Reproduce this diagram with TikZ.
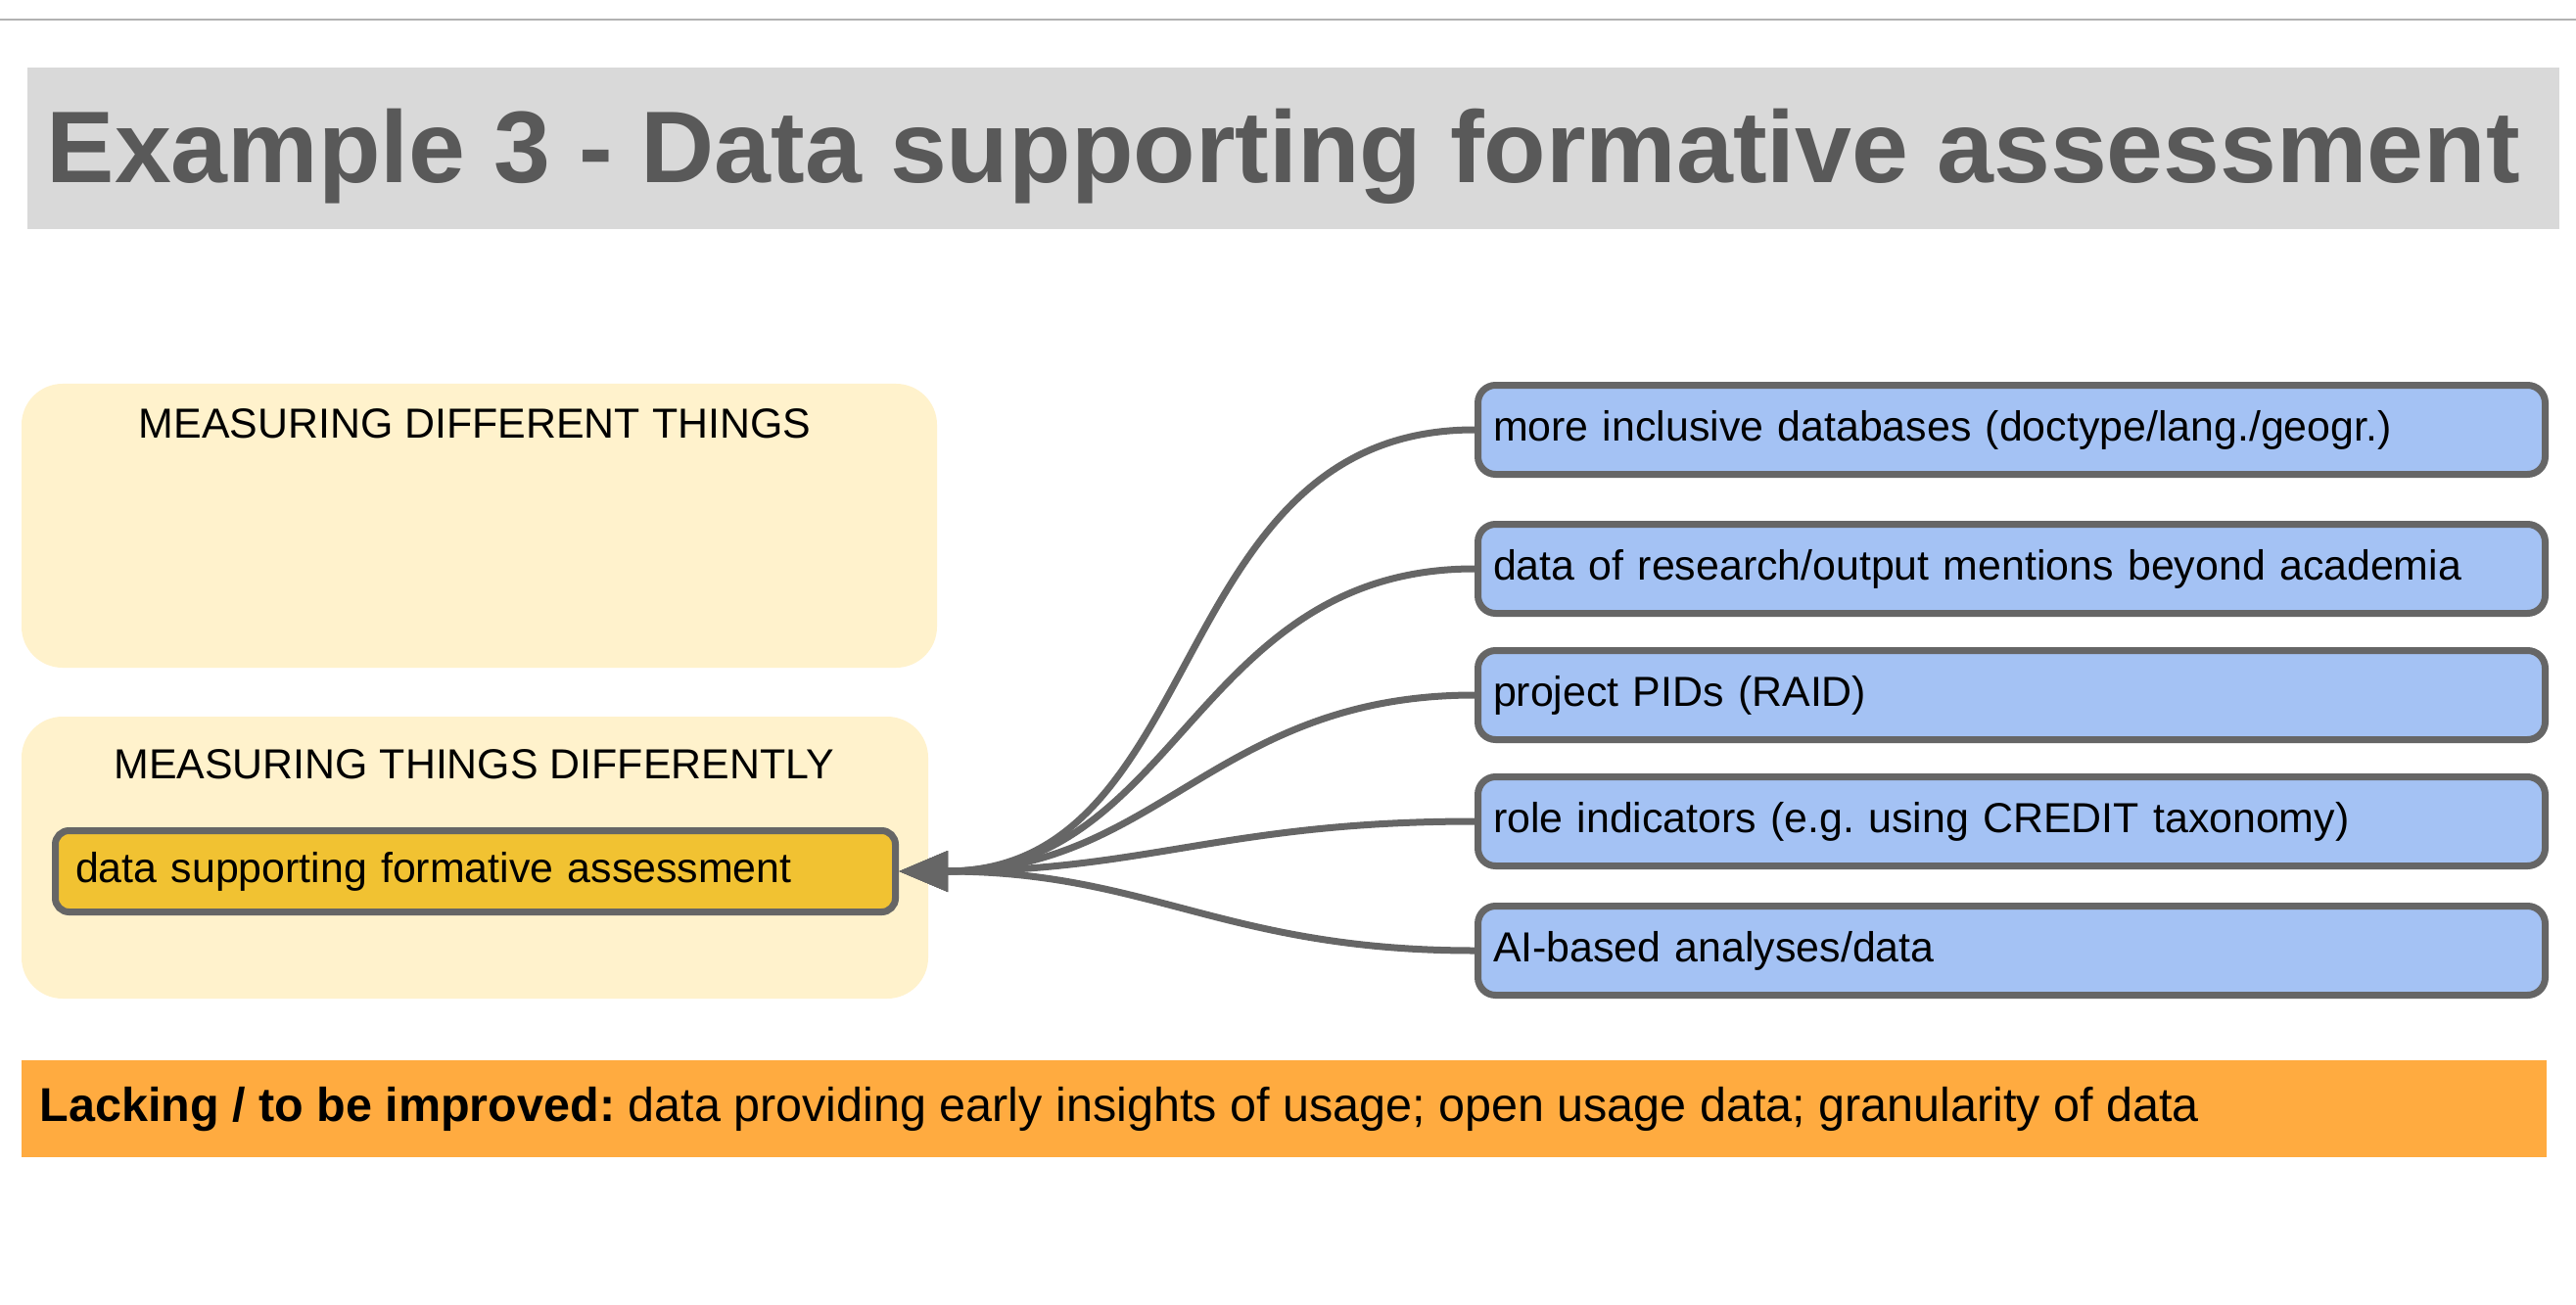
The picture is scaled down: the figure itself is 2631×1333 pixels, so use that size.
\documentclass[tikz,border=0pt]{standalone}
\usepackage{fontspec}
\setmainfont{Liberation Sans}
\usetikzlibrary{arrows.meta}

\definecolor{bandgray}{HTML}{D9D9D9}
\definecolor{titletext}{HTML}{595959}
\definecolor{paleyellow}{HTML}{FFF2CC}
\definecolor{focusyellow}{HTML}{F1C232}
\definecolor{itemblue}{HTML}{A4C2F4}
\definecolor{edgegray}{HTML}{666666}
\definecolor{noteorange}{HTML}{FFAB40}

\newcommand{\bodyfont}{\fontsize{12.2}{14}\selectfont}
\frenchspacing

\begin{document}
\begin{tikzpicture}[x=0.1mm,y=-0.1mm,
	panel/.style={fill=paleyellow, rounded corners=4.2mm},
	heading/.style={anchor=base, font=\bodyfont, inner sep=0pt},
	item/.style={draw=edgegray, line width=0.7mm, fill=itemblue, rounded corners=1.8mm,
		anchor=west, text width=105.9mm, align=left, inner xsep=1.55mm,
		minimum height=9.1mm, font=\bodyfont},
	focusbox/.style={draw=edgegray, line width=0.7mm, fill=focusyellow, rounded corners=1.4mm,
		text width=81.7mm, align=left, inner xsep=2.05mm, minimum height=8.3mm, font=\bodyfont},
	link/.style={draw=edgegray, line width=0.7mm, looseness=1.1, -{Triangle[length=5mm,width=4mm]}}]

	%Background
	\useasboundingbox (0,0) rectangle (2631,1333);
	\fill[white] (0,0) rectangle (2631,1333);
	\draw[gray!60, line width=0.25mm] (0,20) -- (2631,20);

	%Title
	\fill[bandgray] (28,69) rectangle (2614,234);
	\node[anchor=base west, inner sep=0pt, text=titletext, font=\fontsize{29.6}{34}\selectfont\bfseries]
		(title) at (47,187) {Example 3 - Data supporting formative assessment};

	%Panels
	\fill[panel] (22,392) rectangle (957,682);
	\node[heading] (upper) at (485,447) {MEASURING DIFFERENT THINGS};

	\fill[panel] (22,732) rectangle (948,1020);
	\node[heading] (lower) at (484,795) {MEASURING THINGS DIFFERENTLY};

	\node[focusbox] (focus) at (485.5,890) {data supporting formative assessment};

	%Items
	\node[item] (db) at (1506,439) {more inclusive databases (doctype/lang./geogr.)};
	\node[item] (mentions) at (1506,581) {data of research/output mentions beyond academia};
	\node[item] (raid) at (1506,710) {project PIDs (RAID)};
	\node[item] (roles) at (1506,839) {role indicators (e.g. using CREDIT taxonomy)};
	\node[item] (ai) at (1506,971) {AI-based analyses/data};

	%Links
	\foreach \n in {db,mentions,raid,roles,ai}
		\draw[link] (\n.west) to[out=180,in=0] (focus.east);

	%Note
	\fill[noteorange] (22,1083) rectangle (2601,1182);
	\node[anchor=base west, inner sep=0pt, font=\fontsize{13.8}{16}\selectfont]
		(lacking) at (40,1145) {\textbf{Lacking / to be improved:} data providing early insights of usage; open usage data; granularity of data};

\end{tikzpicture}
\end{document}
